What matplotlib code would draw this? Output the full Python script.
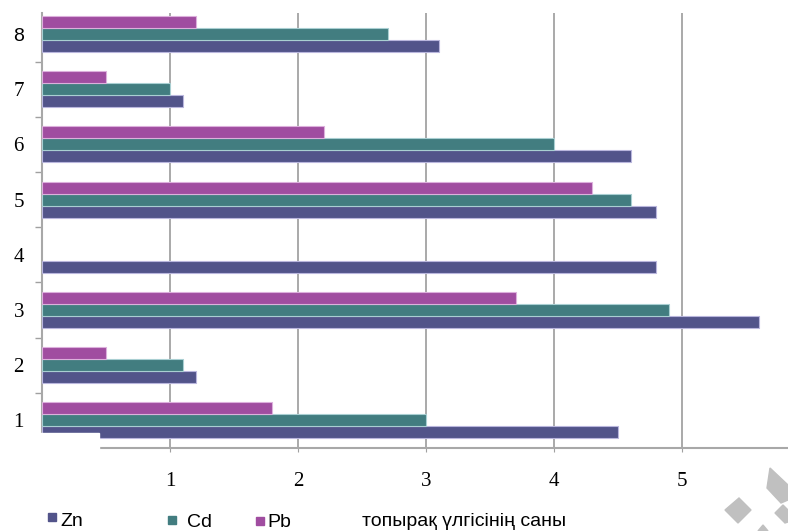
import numpy as np
import matplotlib.pyplot as plt
from matplotlib.patches import Rectangle, Polygon

plt.rcParams['font.family'] = ['Liberation Serif', 'DejaVu Serif']

samples = [1, 2, 3, 4, 5, 6, 7, 8]
zn = [4.5, 1.2, 5.6, 4.8, 4.8, 4.6, 1.1, 3.1]
cd = [3.0, 1.1, 4.9, 0, 4.6, 4.0, 1.0, 2.7]
pb = [1.8, 0.5, 3.7, 0, 4.3, 2.2, 0.5, 1.2]
series = [('Zn', zn, '#52548a', '#b9b6dd'),
          ('Cd', cd, '#427d80', '#a9cfd2'),
          ('Pb', pb, '#a04da0', '#dcb0dc')]
xticks = [1, 2, 3, 4, 5]
xlabel = 'топырақ үлгісінің саны'

W, H = 788, 531
fig = plt.figure(figsize=(W / 100, H / 100), dpi=100)
ax = fig.add_axes([42 / W, 1 - 448 / H, 1 - 42 / W, (448 - 13) / H])

bh = 0.218
for i, (name, vals, col, edge) in enumerate(series):
    off = (i - 1) * bh
    for s, v in zip(samples, vals):
        if v > 0:
            ax.barh(s + off, v, height=bh, color=col, edgecolor=edge,
                    linewidth=0.8, zorder=3)

ax.set_xlim(0, (W - 42) / 128)
ax.set_ylim(0.5, 0.5 + (447.6 - 13) / 55.14)

ax.set_xticks(xticks)
ax.set_xticklabels([str(t) for t in xticks], fontsize=15)
ax.tick_params(axis='x', length=3, color='#a0a0a0', pad=14)
ax.grid(axis='x', color='#a3a3a3', linewidth=1.3, zorder=0)

ax.set_yticks(samples)
ax.set_yticklabels([str(s) for s in samples], fontsize=15)
ax.set_yticks(np.arange(1.5, 8, 1), minor=True)
ax.tick_params(axis='y', which='major', length=0, pad=13)
ax.tick_params(axis='y', which='minor', length=5, color='#a0a0a0', width=1)
lab8 = ax.get_yticklabels()[-1]
lab8.set_fontfamily(['Liberation Sans', 'DejaVu Sans'])
lab8.set_fontsize(14)

for side in ['top', 'right']:
    ax.spines[side].set_visible(False)
ax.spines['left'].set_color('#a8a8a8')
ax.spines['left'].set_linewidth(1.5)
ax.spines['bottom'].set_color('#a8a8a8')
ax.spines['bottom'].set_linewidth(1.5)

# blank patch over the lower-left corner
fig.add_artist(Rectangle((25 / W, 1 - 460 / H), (99 - 25) / W, (460 - 433) / H,
                         transform=fig.transFigure, color='white', zorder=10))

# legend and axis caption
sans = ['Liberation Sans', 'DejaVu Sans']
legend_pos = [(48, 513, 60, 526), (168, 516, 187, 527), (256, 517, 267, 527)]
for (name, vals, col, edge), (mx, my, tx, ty) in zip(series, legend_pos):
    fig.add_artist(Rectangle((mx / W, 1 - (my + 8) / H), 8 / W, 8 / H,
                             transform=fig.transFigure, color=col, zorder=10))
    fig.text(tx / W, 1 - ty / H, name, fontsize=14, family=sans,
             va='baseline', ha='left')
fig.text(362 / W, 1 - 526 / H, xlabel, fontsize=14, family=sans,
         va='baseline', ha='left')

# grey corner logo
shapes = [
    [(725, 510), (739, 498), (751, 510), (738, 523)],
    [(770, 468), (788, 485), (788, 500), (781, 503), (767, 488)],
    [(775, 513), (783, 505), (788, 510), (788, 522), (785, 523)],
    [(758, 531), (763, 525), (768, 531)],
]
for pts in shapes:
    fig.add_artist(Polygon([(x / W, 1 - y / H) for x, y in pts],
                           closed=True, transform=fig.transFigure,
                           color='#c0c0c0', zorder=10))

fig.savefig('out.png', dpi=100)
